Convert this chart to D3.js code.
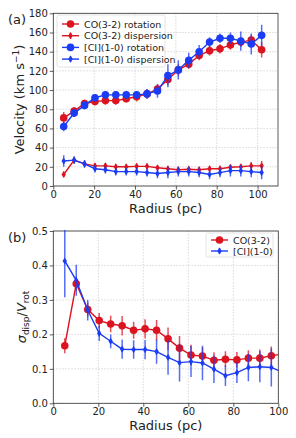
<!DOCTYPE html>
<html><head><meta charset="utf-8">
<script src="https://cdn.jsdelivr.net/npm/d3@7"></script>
<style>body{margin:0;background:#fff}svg{display:block;font-family:"DejaVu Sans",sans-serif}</style>
</head><body><svg id="c" width="296" height="438"></svg>
<script>
const radius = [5.1,10.2,15.3,20.4,25.5,30.6,35.7,40.8,45.9,51,56.1,61.2,66.3,71.4,76.5,81.6,86.7,91.8,96.9,102];
const coRot = [71,78,86,88,89,89,91,93,96,101,111,121,127,136,141,143,147,150,152,142];
const coRotErr = [6,4,4,4,4,4,4,5,5,5,6,6,5,5,5,5,5,5,5,8];
const coDisp = [12,27,23,21,21,20,20,20.5,20.5,19,18,17,17.5,17,18,18,19.5,20,21,21];
const coDispErr = [3,3,3,3,3,3,3,3,3,3,3,3,3,3,3,3,3,3,4,5];
const ciRot = [62,76,84,92,95,95,95,95,96,99,115,121,131,140,150,154,154,151,148,157];
const ciRotErr = [5,4,4,4,4,4,4,4,5,7,12,10,8,7,5,5,6,10,11,11];
const ciDisp = [26,27,23,18,17,15,15,15,14,13,14,15,15,14,12,14,16,16,15,14];
const ciDispErr = [6,4,4,4,4,4,4,4,4,5,6,5,5,5,5,5,6,6,6,7];
const coRatio = [0.167,0.347,0.272,0.240,0.230,0.225,0.212,0.216,0.212,0.187,0.160,0.140,0.137,0.125,0.128,0.126,0.131,0.131,0.138,0.143];
const coRatioErr = [0.022,0.02,0.02,0.022,0.024,0.028,0.025,0.028,0.03,0.033,0.035,0.03,0.025,0.023,0.023,0.023,0.023,0.025,0.027,0.03];
const ciRatio = [0.413,0.357,0.270,0.203,0.180,0.157,0.156,0.156,0.150,0.133,0.118,0.121,0.117,0.099,0.080,0.089,0.104,0.106,0.104,0.09];
const ciRatioErr = [0.105,0.045,0.03,0.022,0.02,0.028,0.027,0.028,0.035,0.05,0.055,0.045,0.05,0.04,0.03,0.03,0.04,0.045,0.055,0.05];
const xTicksA = [0,20,40,60,80,100];
const yTicksA = [0,20,40,60,80,100,120,140,160,180];
const xTicksB = [0,20,40,60,80,100];
const yTicksB = [0,0.1,0.2,0.3,0.4,0.5];

const RED = "#dc1420", BLUE = "#1a3cf5";
const svg = d3.select("#c");

function panel(opt){
  const g = svg.append("g");
  const x = d3.scaleLinear().domain(opt.xd).range([opt.l, opt.r]);
  const y = d3.scaleLinear().domain(opt.yd).range([opt.b, opt.t]);
  const clipId = "clip" + opt.id;
  svg.append("clipPath").attr("id", clipId).append("rect")
    .attr("x", opt.l).attr("y", opt.t - 1).attr("width", opt.r - opt.l).attr("height", opt.b - opt.t + 2);
  g.selectAll(".gx").data(opt.xt).join("line").attr("x1", d=>x(d)).attr("x2", d=>x(d))
    .attr("y1", opt.t).attr("y2", opt.b).attr("stroke", "#c8c8c8").attr("stroke-width", 0.7).attr("stroke-dasharray", "1.5,1.5");
  g.selectAll(".gy").data(opt.yt).join("line").attr("y1", d=>y(d)).attr("y2", d=>y(d))
    .attr("x1", opt.l).attr("x2", opt.r).attr("stroke", "#c8c8c8").attr("stroke-width", 0.7).attr("stroke-dasharray", "1.5,1.5");
  const ax = g.append("g").attr("transform", `translate(0,${opt.b})`)
    .call(d3.axisBottom(x).tickValues(opt.xt).tickSize(3.5).tickPadding(1.5).tickFormat(d3.format("d")));
  const ay = g.append("g").attr("transform", `translate(${opt.l},0)`)
    .call(d3.axisLeft(y).tickValues(opt.yt).tickSize(3.5).tickPadding(2).tickFormat(opt.yf));
  [ax, ay].forEach(a => {
    a.select(".domain").remove();
    a.selectAll("line").attr("stroke", "#333").attr("stroke-width", 0.8);
    a.selectAll("text").attr("font-size", 10).attr("fill", "#222").attr("font-family", "DejaVu Sans");
  });
  g.append("rect").attr("x", opt.l).attr("y", opt.t).attr("width", opt.r - opt.l).attr("height", opt.b - opt.t)
    .attr("fill", "none").attr("stroke", "#333").attr("stroke-width", 0.8);
  const data = g.append("g").attr("clip-path", `url(#${clipId})`);
  opt.series.forEach(s => {
    const pts = radius.map((r, i) => ({r, v: s.v[i], e: s.e[i]}));
    data.append("path").datum(pts).attr("fill", "none").attr("stroke", s.c).attr("stroke-width", 1.4)
      .attr("d", d3.line().x(d=>x(d.r)).y(d=>y(d.v)));
    data.selectAll(null).data(pts).join("line").attr("x1", d=>x(d.r)).attr("x2", d=>x(d.r))
      .attr("y1", d=>y(d.v - d.e)).attr("y2", d=>y(d.v + d.e)).attr("stroke", s.c).attr("stroke-opacity", 0.75).attr("stroke-width", 1.5);
    if (s.m === "o") {
      data.selectAll(null).data(pts).join("circle").attr("cx", d=>x(d.r)).attr("cy", d=>y(d.v)).attr("r", 3.8).attr("fill", s.c);
    } else {
      data.selectAll(null).data(pts).join("path").attr("transform", d=>`translate(${x(d.r)},${y(d.v)})`)
        .attr("d", "M0,-3.6L2.2,0L0,3.6L-2.2,0Z").attr("fill", s.c);
    }
  });
  g.append("text").attr("x", (opt.l + opt.r) / 2).attr("y", opt.xly).attr("text-anchor", "middle")
    .attr("font-size", 13).attr("fill", "#222").text("Radius (pc)");
  g.append("text").attr("x", 8).attr("y", opt.t + 11).attr("font-size", 13).attr("fill", "#222").text(opt.tag);
  const lg = g.append("g");
  lg.append("rect").attr("x", opt.lg.x).attr("y", opt.lg.y).attr("width", opt.lg.w).attr("height", opt.lg.h)
    .attr("rx", 2).attr("fill", "#fff").attr("fill-opacity", 0.85).attr("stroke", "#dddddd").attr("stroke-width", 0.8);
  opt.series.forEach((s, i) => {
    const yy = opt.lg.y + opt.lg.y0 + i * opt.lg.dy;
    const x0 = opt.lg.x + 5, x1 = x0 + 17;
    lg.append("line").attr("x1", x0).attr("x2", x1).attr("y1", yy).attr("y2", yy).attr("stroke", s.c).attr("stroke-width", 1.4);
    lg.append("line").attr("x1", (x0+x1)/2).attr("x2", (x0+x1)/2).attr("y1", yy-3).attr("y2", yy+3).attr("stroke", s.c).attr("stroke-width", 1.5);
    if (s.m === "o") lg.append("circle").attr("cx", (x0+x1)/2).attr("cy", yy).attr("r", 3.8).attr("fill", s.c);
    else lg.append("path").attr("transform", `translate(${(x0+x1)/2},${yy})`).attr("d", "M0,-3.6L2.2,0L0,3.6L-2.2,0Z").attr("fill", s.c);
    lg.append("text").attr("x", x1 + 5).attr("y", yy + 3.5).attr("font-size", 9.5).attr("fill", "#222").text(s.n);
  });
  return {x, y};
}

panel({id:"a", l:53.3, r:278, t:13.3, b:186, xd:[0,110], yd:[0,180], xt:xTicksA, yt:yTicksA, yf:d3.format("d"),
  xly:213, tag:"(a)",
  lg:{x:57, y:15, w:108, h:52, y0:9, dy:11.7},
  series:[
    {n:"CO(3-2) rotation", v:coRot, e:coRotErr, c:RED, m:"o"},
    {n:"CO(3-2) dispersion", v:coDisp, e:coDispErr, c:RED, m:"d"},
    {n:"[CI](1-0) rotation", v:ciRot, e:ciRotErr, c:BLUE, m:"o"},
    {n:"[CI](1-0) dispersion", v:ciDisp, e:ciDispErr, c:BLUE, m:"d"}
  ]});
svg.append("text").attr("transform", "translate(24,99.5) rotate(-90)").attr("text-anchor", "middle")
  .attr("font-size", 13).attr("fill", "#222").html('Velocity (km s<tspan dy="-5" font-size="9">−1</tspan><tspan dy="5">)</tspan>');

panel({id:"b", l:53.3, r:278.3, t:231, b:403.3, xd:[0,100], yd:[0,0.5], xt:xTicksB, yt:yTicksB, yf:d3.format(".1f"),
  xly:430, tag:"(b)",
  lg:{x:206, y:233, w:67, h:24, y0:7, dy:11},
  series:[
    {n:"CO(3-2)", v:coRatio, e:coRatioErr, c:RED, m:"o"},
    {n:"[CI](1-0)", v:ciRatio, e:ciRatioErr, c:BLUE, m:"d"}
  ]});
svg.append("text").attr("transform", "translate(26,317) rotate(-90)").attr("text-anchor", "middle")
  .attr("font-size", 13).attr("fill", "#222")
  .html('<tspan font-style="italic">σ</tspan><tspan dy="3" font-size="9">disp</tspan><tspan dy="-3">/</tspan><tspan font-style="italic">V</tspan><tspan dy="3" font-size="9">rot</tspan>');
</script></body></html>
